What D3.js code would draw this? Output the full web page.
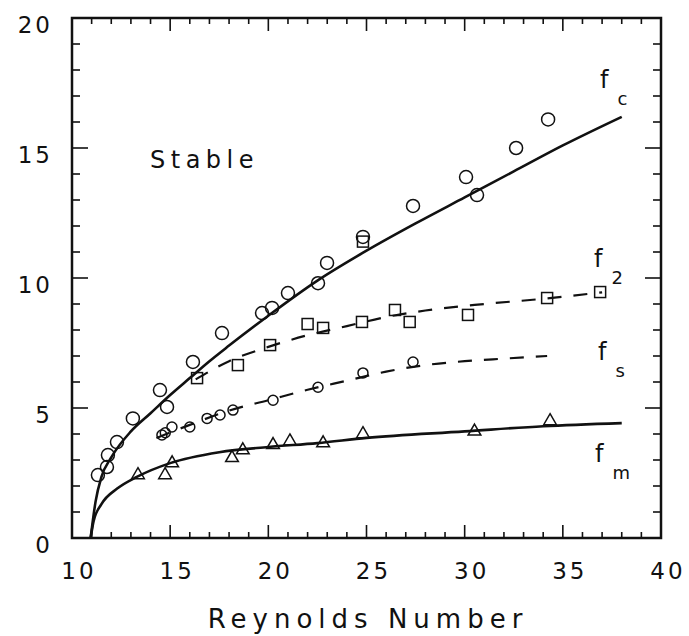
<!DOCTYPE html>
<html><head><meta charset="utf-8">
<script src="https://cdn.jsdelivr.net/npm/d3@7"></script>
<style>body{margin:0;background:#fff}svg{display:block}text{font-family:"DejaVu Sans",sans-serif;fill:#111}</style>
</head><body><svg id="c" width="689" height="636"></svg>
<script>
// Data (Reynolds number, frequency)
const xTicks = [10,15,20,25,30,35,40];
const yTicks = [0,5,10,15,20];
const xTickLabels = ["10","15","20","25","30","35","40"];
const yTickLabels = ["0","5","10","15","20"];

const fcCurve = [[10.95,0],[11.2,1.4],[11.5,2.35],[12,3.1],[13,4.1],[14,4.8],[15,5.5],[16,6.15],[17,6.8],[18,7.4],[20,8.55],[22.5,9.9],[25,11.05],[27.5,12.1],[30,13.1],[32.5,14.1],[35,15.1],[38,16.2]];
const f2Curve = [[16.3,6.1],[18,6.8],[20,7.35],[22,7.8],[24,8.15],[26,8.5],[28,8.75],[31,9.0],[34,9.2],[37,9.45]];
const fsCurve = [[14.3,3.85],[16,4.35],[18,4.9],[20,5.3],[22,5.7],[24,6.05],[26,6.4],[28,6.65],[30,6.8],[32,6.9],[34.2,7.0]];
const fmCurve = [[10.95,0],[11.1,0.65],[11.5,1.3],[12.3,1.9],[13.3,2.35],[15,2.88],[17.5,3.3],[20,3.5],[22.5,3.65],[25,3.85],[30,4.1],[34,4.3],[38,4.42]];

const fcPts = [[11.32,2.42],[11.78,2.73],[11.83,3.19],[12.29,3.69],[13.1,4.6],[14.48,5.69],[14.84,5.04],[16.16,6.77],[17.64,7.88],[19.68,8.65],[20.19,8.85],[21.0,9.42],[22.53,9.8],[22.99,10.58],[24.82,11.58],[27.37,12.77],[30.07,13.88],[30.63,13.19],[32.62,15.0],[34.25,16.1]];
const f2Pts = [[16.37,6.15],[18.45,6.65],[20.09,7.42],[22.0,8.23],[22.79,8.08],[24.77,8.31],[24.82,11.4],[26.45,8.77],[27.2,8.31],[30.17,8.58],[34.2,9.23],[36.9,9.46]];
const fsPts = [[14.58,3.96],[14.75,4.05],[15.09,4.27],[16.0,4.27],[16.88,4.6],[17.54,4.73],[18.2,4.92],[20.24,5.3],[22.53,5.8],[24.82,6.35],[27.37,6.77]];
const fmPts = [[13.36,2.42],[14.74,2.42],[15.1,2.88],[18.15,3.08],[18.7,3.38],[20.24,3.58],[21.1,3.72],[22.79,3.65],[24.82,4.0],[30.5,4.1],[34.35,4.5]];

const svg = d3.select("#c");
const x = d3.scaleLinear().domain([10,40]).range([72,661]);
const y = d3.scaleLinear().domain([0,20]).range([538,18]);

// frame
svg.append("rect").attr("x",x(10)).attr("y",y(20)).attr("width",x(40)-x(10)).attr("height",y(0)-y(20))
  .attr("fill","none").attr("stroke","#111").attr("stroke-width",2.5);

// ticks (inward, all four sides)
const xMinor = d3.range(11,40,1);
const yMinor = d3.range(1,20,1);
const g = svg.append("g").attr("stroke","#111").attr("stroke-width",1.6);
xMinor.forEach(v=>{
  const major = v%5===0, L = major?13:6;
  g.append("line").attr("x1",x(v)).attr("x2",x(v)).attr("y1",y(0)).attr("y2",y(0)-L);
  g.append("line").attr("x1",x(v)).attr("x2",x(v)).attr("y1",y(20)).attr("y2",y(20)+L);
});
yMinor.forEach(v=>{
  const major = v%5===0, L = major?16:8;
  g.append("line").attr("y1",y(v)).attr("y2",y(v)).attr("x1",x(10)).attr("x2",x(10)+L);
  g.append("line").attr("y1",y(v)).attr("y2",y(v)).attr("x1",x(40)).attr("x2",x(40)-L);
});

// tick labels
xTicks.forEach((v,i)=>{
  svg.append("text").attr("x",x(v)+7).attr("y",579).attr("text-anchor","middle")
    .attr("font-size",23).attr("letter-spacing",3).text(xTickLabels[i]);
});
yTicks.forEach((v,i)=>{
  svg.append("text").attr("x",53).attr("y",y(v)+15).attr("text-anchor","end")
    .attr("font-size",23).attr("letter-spacing",3).text(yTickLabels[i]);
});

svg.append("text").attr("x",368).attr("y",628).attr("text-anchor","middle")
  .attr("font-size",26).attr("letter-spacing",6).text("Reynolds Number");
svg.append("text").attr("x",150).attr("y",168).attr("font-size",24).attr("letter-spacing",5.5).text("Stable");

// curves
const line = d3.line().x(d=>x(d[0])).y(d=>y(d[1])).curve(d3.curveMonotoneX);
svg.append("path").attr("d",line(fcCurve)).attr("fill","none").attr("stroke","#111").attr("stroke-width",2.6);
svg.append("path").attr("d",line(fmCurve)).attr("fill","none").attr("stroke","#111").attr("stroke-width",2.6);
svg.append("path").attr("d",line(f2Curve)).attr("fill","none").attr("stroke","#111").attr("stroke-width",2.2).attr("stroke-dasharray","14,12");
svg.append("path").attr("d",line(fsCurve)).attr("fill","none").attr("stroke","#111").attr("stroke-width",2.2).attr("stroke-dasharray","14,12");

// markers
const mk = svg.append("g").attr("fill","none").attr("stroke","#111").attr("stroke-width",1.5);
fcPts.forEach(d=>mk.append("circle").attr("cx",x(d[0])).attr("cy",y(d[1])).attr("r",6.5));
fsPts.forEach(d=>mk.append("circle").attr("cx",x(d[0])).attr("cy",y(d[1])).attr("r",5));
f2Pts.forEach(d=>mk.append("rect").attr("x",x(d[0])-5.5).attr("y",y(d[1])-5.5).attr("width",11).attr("height",11));
const tri = d3.symbol().type(d3.symbolTriangle).size(70);
fmPts.forEach(d=>mk.append("path").attr("d",tri()).attr("transform",`translate(${x(d[0])},${y(d[1])})`));

// curve labels
const labs = [["c",600,88],["2",594,267],["s",598,360],["m",595,462]];
labs.forEach(l=>{
  const t = svg.append("text").attr("x",l[1]).attr("y",l[2]).attr("font-size",24);
  t.append("tspan").text("f");
  t.append("tspan").attr("dx",9).attr("dy",17).attr("font-size",18).text(l[0]);
});
</script></body></html>
